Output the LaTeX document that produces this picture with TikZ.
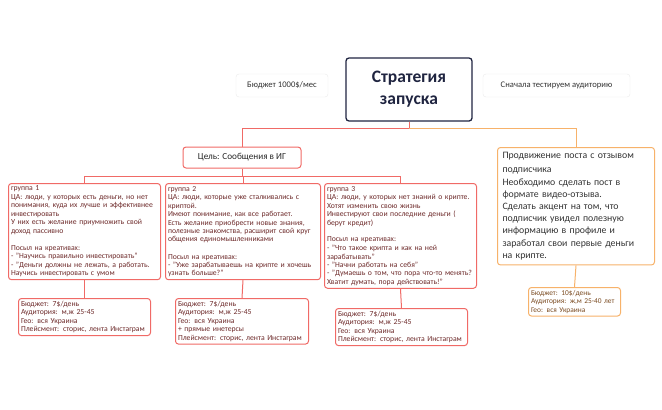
\documentclass[tikz,border=0pt]{standalone}
\usepackage{fontspec}
\setmainfont{Carlito}
\definecolor{redl}{HTML}{F06A66}
\definecolor{orl}{HTML}{F7B26A}
\definecolor{redt}{HTML}{6E2B2B}
\definecolor{ort}{HTML}{7A4A20}
\definecolor{navy}{HTML}{1F2440}
\begin{document}
\begin{tikzpicture}[x=1pt,y=-1pt,
  rbox/.style={draw=redl,line width=1pt,rounded corners=3pt,anchor=north west,align=left,inner sep=2.5pt,text=redt,font=\fontsize{7.7}{8.5}\selectfont,fill=white},
  obox/.style={draw=orl,line width=1pt,rounded corners=3pt,anchor=north west,align=left,inner sep=3pt,fill=white},
  tag/.style={draw=black!8,rounded corners=3pt,fill=white,font=\fontsize{8.6}{10}\selectfont,text=black!80,inner sep=4pt},
  rl/.style={draw=redl,line width=1pt},
  ol/.style={draw=orl,line width=1pt}]
\useasboundingbox (0,0) rectangle (662,410);
\node[draw=navy,line width=1.3pt,rounded corners=3pt,minimum width=126pt,minimum height=63pt,align=center,font=\bfseries\fontsize{17.5}{22}\selectfont,text=navy] (root) at (409,89.5) {Стратегия\\запуска};
\node[tag,minimum width=92pt,minimum height=23pt] (bud) at (282,85.5) {Бюджет 1000\$/мес};
\node[tag,minimum width=147pt,minimum height=23pt] (test) at (556.5,85.5) {Сначала тестируем аудиторию};
\node[draw=redl,line width=1pt,rounded corners=3pt,minimum width=118pt,minimum height=21pt,font=\fontsize{9.2}{10}\selectfont,text=black!85] (goal) at (242,157.5) {Цель: Сообщения в ИГ};
\node[obox,text width=147pt,font=\fontsize{9.8}{12.2}\selectfont,text=black!80,inner sep=5pt] (promo) at (497,147) {\vspace{2pt}Продвижение поста с отзывом\\подписчика\\Необходимо сделать пост в\\формате видео-отзыва.\\Сделать акцент на том, что\\подписчик увидел полезную\\информацию в профиле и\\заработал свои первые деньги\\на крипте.\\[20pt]};
\node[obox,text width=87pt,font=\fontsize{7.4}{8.6}\selectfont,text=ort,inner sep=2.5pt] (pb) at (528,287) {Бюджет: 10\$/день\\Аудитория: ж,м 25-40 лет\\Гео: вся Украина};
\coordinate (rj) at (409,128);
\draw[rl] (root.south) -- (rj) -| (goal.north);
\draw[ol] (rj) -| (promo.north);
\draw[ol] (promo.south) -- (pb.north);
\node[rbox,text width=147pt] (g1) at (8,183) {группа 1\\ЦА: люди, у которых есть деньги, но нет\\понимания, куда их лучше и эффективнее\\инвестировать\\У них есть желание приумножить свой\\доход пассивно\\[8.5pt]Посыл на креативах:\\- "Научись правильно инвестировать"\\- "Деньги должны не лежать, а работать.\\Научись инвестировать с умом};
\node[rbox,text width=150pt] (g2) at (165,183) {группа 2\\ЦА: люди, которые уже сталкивались с\\криптой.\\Имеют понимание, как все работает.\\Есть желание приобрести новые знания,\\полезные знакомства, расширит свой круг\\общения единомышленниками\\[8.5pt]Посыл на креативах:\\- "Уже зарабатываешь на крипте и хочешь\\узнать больше?"};
\node[rbox,text width=147pt] (g3) at (324,183) {группа 3\\ЦА: люди, у которых нет знаний о крипте.\\Хотят изменить свою жизнь\\Инвестируют свои последние деньги (\\берут кредит)\\[8.5pt]Посыл на креативах:\\- "Что такое крипта и как на ней\\зарабатывать"\\- "Начни работать на себя"\\- "Думаешь о том, что пора что-то менять?\\Хватит думать, пора действовать!"};
\coordinate (gj) at (242,176);
\draw[rl] (goal.south) -- (gj) -| (g1.north);
\draw[rl] (gj) -| (g2.north);
\draw[rl] (gj) -| (g3.north);
\node[rbox,text width=127pt] (b1) at (18,298) {Бюджет: 7\$/день\\Аудитория: м,ж 25-45\\Гео: вся Украина\\Плейсмент: сторис, лента Инстаграм};
\node[rbox,text width=128pt] (b2) at (175,298) {Бюджет: 7\$/день\\Аудитория: м,ж 25-45\\Гео: вся Украина\\+ прямые инетерсы\\Плейсмент: сторис, лента Инстаграм};
\node[rbox,text width=127pt] (b3) at (335,308) {Бюджет: 7\$/день\\Аудитория: м,ж 25-45\\Гео: вся Украина\\Плейсмент: сторис, лента Инстаграм};
\draw[rl] (g1.south) -- (b1.north);
\draw[rl] (g2.south) -- (b2.north);
\draw[rl] (g3.south) -- (b3.north);
\end{tikzpicture}
\end{document}
